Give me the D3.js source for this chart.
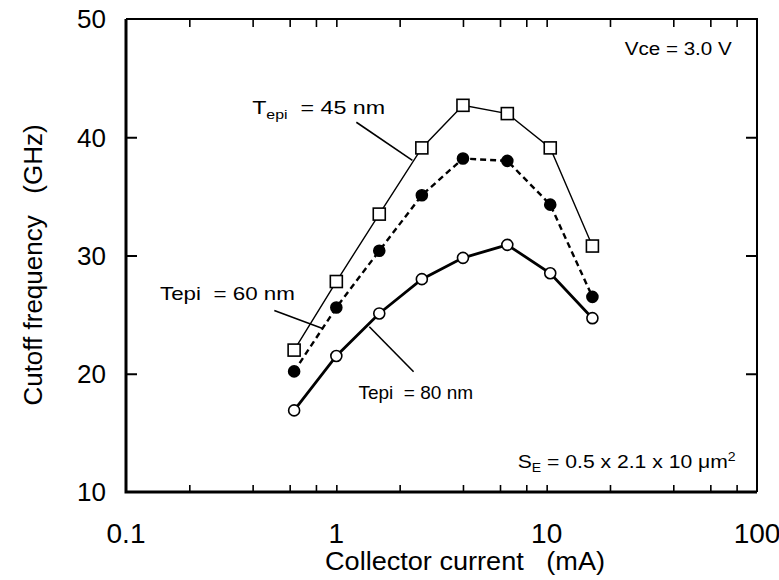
<!DOCTYPE html>
<html>
<head>
<meta charset="utf-8">
<script src="https://d3js.org/d3.v7.min.js"></script>
<style>
  body { margin: 0; background: #fff; }
  svg { display: block; font-family: "Liberation Sans", Arial, Helvetica, sans-serif; }
</style>
</head>
<body>
<svg width="779" height="580"></svg>
<script>
// collector current (mA) at each bias point
var current = [0.63, 1.0, 1.6, 2.55, 4.0, 6.5, 10.4, 16.5];
// cutoff frequency (GHz) per epi thickness
var ft45 = [22.0, 27.8, 33.5, 39.1, 42.7, 42.0, 39.1, 30.8];
var ft60 = [20.2, 25.6, 30.4, 35.1, 38.2, 38.0, 34.3, 26.5];
var ft80 = [16.9, 21.5, 25.1, 28.0, 29.8, 30.9, 28.5, 24.7];

var xMajor = [0.1, 1, 10, 100];
var xMinor = [0.2, 0.4, 0.6, 0.8, 2, 4, 6, 8, 20, 40, 60, 80];
var yTicks = [10, 20, 30, 40, 50];

var svg = d3.select("svg"),
    width = +svg.attr("width"),
    height = +svg.attr("height");
var margin = {top: 19, right: 22, bottom: 88, left: 126};
var w = width - margin.left - margin.right,
    h = height - margin.top - margin.bottom;

var x = d3.scaleLog().domain([0.1, 100]).range([0, w]);
var y = d3.scaleLinear().domain([10, 50]).range([h, 0]);

var g = svg.append("g")
    .attr("transform", "translate(" + margin.left + "," + margin.top + ")");

// inward ticks on all four sides
var allX = xMajor.concat(xMinor).filter(function(d){ return d > 0.1 && d < 100; });
g.append("g")
    .attr("transform", "translate(0," + h + ")")
    .call(d3.axisTop(x).tickValues(allX).tickSize(7).tickFormat(""))
    .call(function(s){ s.select(".domain").remove(); s.selectAll("line").attr("stroke-width", 1.6); });
g.append("g")
    .call(d3.axisBottom(x).tickValues(allX).tickSize(8).tickFormat(""))
    .call(function(s){ s.select(".domain").remove(); s.selectAll("line").attr("stroke-width", 1.6); });
var inner = yTicks.filter(function(d){ return d > 10 && d < 50; });
g.append("g")
    .call(d3.axisRight(y).tickValues(inner).tickSize(11).tickFormat(""))
    .call(function(s){ s.select(".domain").remove(); s.selectAll("line").attr("stroke-width", 2); });
g.append("g")
    .attr("transform", "translate(" + w + ",0)")
    .call(d3.axisLeft(y).tickValues(inner).tickSize(11).tickFormat(""))
    .call(function(s){ s.select(".domain").remove(); s.selectAll("line").attr("stroke-width", 2); });

// frame
g.append("path")
    .attr("d", "M0,0H" + w + "V" + h)
    .attr("fill", "none").attr("stroke", "#000").attr("stroke-width", 2);
g.append("path")
    .attr("d", "M0,0V" + h + "H" + w)
    .attr("fill", "none").attr("stroke", "#000").attr("stroke-width", 3);

// tick labels
g.selectAll(".xl").data(xMajor).enter().append("text")
    .attr("x", function(d){ return x(d); })
    .attr("y", h + 51)
    .attr("text-anchor", "middle")
    .attr("font-size", 28)
    .text(function(d){ return d3.format("~g")(d); });
g.selectAll(".yl").data(yTicks).enter().append("text")
    .attr("x", -20)
    .attr("y", function(d){ return y(d); })
    .attr("dy", "0.36em")
    .attr("text-anchor", "end")
    .attr("font-size", 26)
    .text(function(d){ return d; });

// axis titles
svg.append("text")
    .attr("x", 465)
    .attr("y", 570)
    .attr("text-anchor", "middle")
    .attr("font-size", 25)
    .attr("textLength", 280).attr("lengthAdjust", "spacingAndGlyphs")
    .attr("xml:space", "preserve")
    .text("Collector current   (mA)");
svg.append("text")
    .attr("transform", "translate(42," + (margin.top + y(29.2)) + ") rotate(-90)")
    .attr("text-anchor", "middle")
    .attr("font-size", 26)
    .attr("xml:space", "preserve")
    .text("Cutoff frequency   (GHz)");

// curves
var series = [
  {vals: ft45, width: 1.4, dash: null, mark: "square"},
  {vals: ft60, width: 2.4, dash: "6,4", mark: "dot"},
  {vals: ft80, width: 2.8, dash: null, mark: "circle"}
];
var line = d3.line()
    .x(function(d){ return x(d[0]); })
    .y(function(d){ return y(d[1]); });

series.forEach(function(s){
  var pts = current.map(function(c, i){ return [c, s.vals[i]]; });
  g.append("path")
      .datum(pts)
      .attr("d", line)
      .attr("fill", "none")
      .attr("stroke", "#000")
      .attr("stroke-width", s.width)
      .attr("stroke-dasharray", s.dash);
  var m = g.selectAll(null).data(pts).enter();
  if (s.mark == "square") {
    m.append("rect")
        .attr("x", function(d){ return x(d[0]) - 6; })
        .attr("y", function(d){ return y(d[1]) - 6; })
        .attr("width", 12).attr("height", 12)
        .attr("fill", "#fff").attr("stroke", "#000").attr("stroke-width", 1.6);
  } else {
    m.append("circle")
        .attr("cx", function(d){ return x(d[0]); })
        .attr("cy", function(d){ return y(d[1]); })
        .attr("r", 5.5)
        .attr("fill", s.mark == "dot" ? "#000" : "#fff")
        .attr("stroke", "#000").attr("stroke-width", 1.6);
  }
});

// leader lines [x1, y1, x2, y2] in data units
var leaders = [
  [1.245, 41.27, 2.30, 38.05],
  [0.507, 25.34, 0.867, 23.81],
  [1.435, 23.98, 2.33, 20.17]
];
g.selectAll(".leader").data(leaders).enter().append("line")
    .attr("x1", function(d){ return x(d[0]); })
    .attr("y1", function(d){ return y(d[1]); })
    .attr("x2", function(d){ return x(d[2]); })
    .attr("y2", function(d){ return y(d[3]); })
    .attr("stroke", "#000").attr("stroke-width", 1.6);

// annotations
function note(xv, yv, len, parts) {
  var t = g.append("text")
      .attr("x", x(xv)).attr("y", y(yv))
      .attr("font-size", 19)
      .attr("xml:space", "preserve");
  if (len) t.attr("textLength", len).attr("lengthAdjust", "spacingAndGlyphs");
  parts.forEach(function(p){
    t.append("tspan")
        .attr("font-size", p.size || 19)
        .attr("dy", p.dy || 0)
        .text(p.t);
  });
}
note(0.398, 41.95, 133, [{t: "T"}, {t: "epi", size: 13, dy: 5}, {t: "  = 45 nm", dy: -5}]);
note(0.145, 26.27, 135, [{t: "Tepi  = 60 nm"}]);
note(1.274, 17.88, null, [{t: "Tepi  = 80 nm"}]);
note(23.5, 46.95, 107, [{t: "Vce = 3.0 V", size: 18}]);
note(7.28, 12.03, 218, [{t: "S", size: 18}, {t: "E", size: 12, dy: 4}, {t: " = 0.5 x 2.1 x 10 \u03bcm", size: 18, dy: -4}, {t: "2", size: 12, dy: -7}]);
</script>
</body>
</html>
